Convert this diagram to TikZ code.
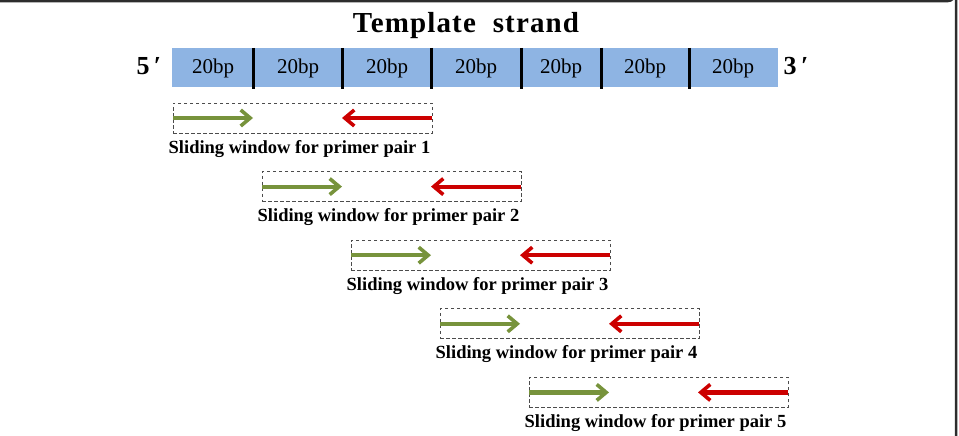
\documentclass[tikz,border=0pt]{standalone}
\usepackage{fontspec}
\setmainfont{Liberation Serif}
\usetikzlibrary{arrows.meta}
\definecolor{strandblue}{RGB}{142,180,227}
\definecolor{fwdgreen}{RGB}{119,147,60}
\definecolor{revred}{RGB}{204,0,0}
\definecolor{framegray}{RGB}{45,45,45}
\begin{document}
\begin{tikzpicture}[x=1pt,y=-1pt,
  every node/.style={inner sep=0pt,outer sep=0pt},
  segtext/.style={font=\fontsize{21}{21}\selectfont},
  endlabel/.style={font=\bfseries\fontsize{26}{26}\selectfont},
  divider/.style={line width=3pt,black},
  window/.style={draw=black!70,dashed,dash pattern=on 3.5pt off 2.5pt,line width=1pt,minimum width=259pt,minimum height=30pt},
  fwd/.style={draw=fwdgreen,line width=4.2pt,-{Straight Barb[length=9.5pt,width=16pt,line width=3.6pt]}},
  rev/.style={draw=revred,line width=4.2pt,-{Straight Barb[length=9.5pt,width=16pt,line width=3.6pt]}},
  caption/.style={font=\bfseries\fontsize{18.5}{18.5}\selectfont,anchor=north}
]
\useasboundingbox (0,0) rectangle (959,436);

% frame of the panel (top and right edges, rounded corner)
\draw[framegray,line width=2.5pt] (-5,1.2) -- (947,1.2) arc[start angle=90,end angle=0,radius=9] -- (956,440);

% title
\node[font=\bfseries\fontsize{29}{29}\selectfont\addfontfeature{LetterSpace=4}] (title) at (466,26) {Template\ \ strand};

% template strand bar
\node[fill=strandblue,minimum width=606pt,minimum height=39pt,anchor=north west] (strand) at (172,48) {};
\node[endlabel] (five) at (149,66) {5\,′};
\node[endlabel] (three) at (796,66) {3\,′};
\foreach \c [count=\i] in {213,298,387,476,561,645,733}
  \node[segtext] (seg\i) at (\c,68) {20bp};
\foreach \d in {253,342,431,521,601,689}
  \draw[divider] (\d,48) -- (\d,89);

% sliding windows with forward and reverse primers
\foreach \k in {1,...,5}{
  \pgfmathsetmacro{\wx}{173+89*(\k-1)}
  \pgfmathsetmacro{\wy}{103+68.6*(\k-1)}
  \node[window,anchor=north west] (w\k) at (\wx,\wy) {};
  \coordinate (f\k) at ([xshift=80pt]w\k.west);
  \coordinate (r\k) at ([xshift=-90pt]w\k.east);
  \draw[fwd] (w\k.west) -- (f\k);
  \draw[rev] (w\k.east) -- (r\k);
  \node[caption] (cap\k) at ([xshift=-3pt,yshift=-7pt]w\k.south) {Sliding window for primer pair \k};
}
\end{tikzpicture}
\end{document}
